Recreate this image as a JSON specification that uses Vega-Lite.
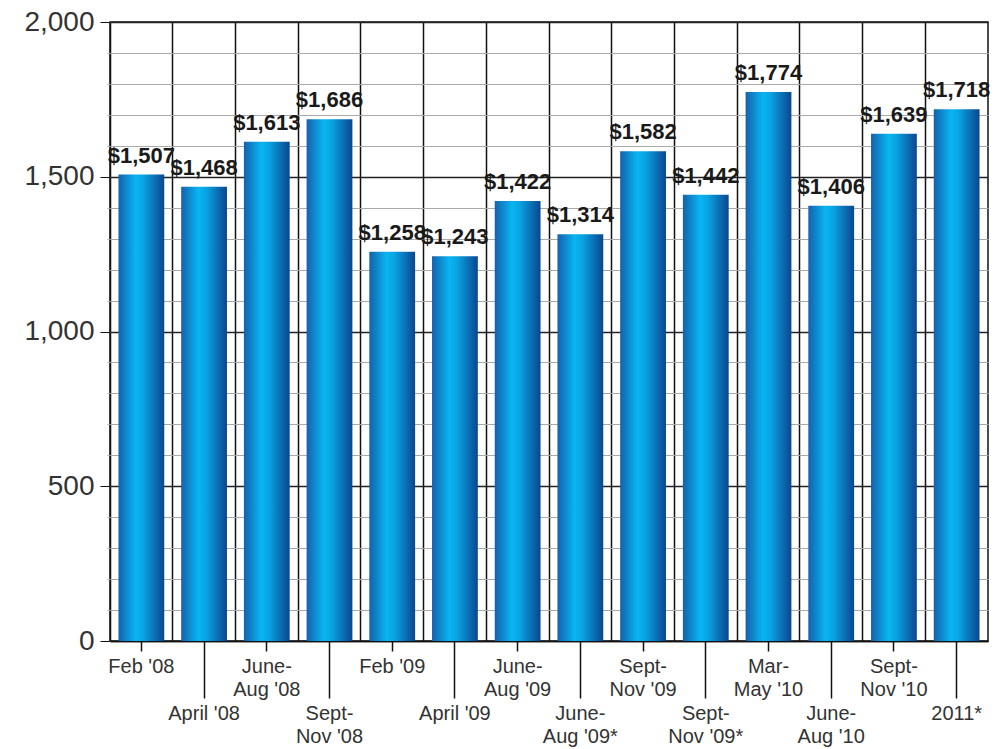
{
  "$schema": "https://vega.github.io/schema/vega-lite/v6.json",
  "autosize": {"type": "none"},
  "width": 878,
  "height": 619,
  "padding": {"left": 110, "top": 22, "right": 11, "bottom": 108},
  "background": "white",
  "config": {
    "view": {"stroke": "#111", "strokeWidth": 1.5},
    "font": "Liberation Sans"
  },
  "data": {
    "values": [
      {"period": "Feb '08", "amount": 1507},
      {"period": "April '08", "amount": 1468},
      {"period": "June-|Aug '08", "amount": 1613},
      {"period": "Sept-|Nov '08", "amount": 1686},
      {"period": "Feb '09", "amount": 1258},
      {"period": "April '09", "amount": 1243},
      {"period": "June-|Aug '09", "amount": 1422},
      {"period": "June-|Aug '09*", "amount": 1314},
      {"period": "Sept-|Nov '09", "amount": 1582},
      {"period": "Sept-|Nov '09*", "amount": 1442},
      {"period": "Mar-|May '10", "amount": 1774},
      {"period": "June-|Aug '10", "amount": 1406},
      {"period": "Sept-|Nov '10", "amount": 1639},
      {"period": "2011*", "amount": 1718}
    ]
  },
  "layer": [
    {
      "mark": {
        "type": "bar",
        "width": {"band": 0.73},
        "color": {
          "gradient": "linear",
          "x1": 0, "x2": 1, "y1": 0, "y2": 0,
          "stops": [
            {"offset": 0, "color": "#1461ad"},
            {"offset": 0.38, "color": "#08b6f2"},
            {"offset": 0.55, "color": "#0aa2e2"},
            {"offset": 1, "color": "#0b468f"}
          ]
        }
      },
      "encoding": {
        "x": {
          "field": "period", "type": "nominal", "sort": null,
          "scale": {"paddingInner": 0, "paddingOuter": 0},
          "axis": {
            "orient": "bottom",
            "title": null,
            "labelAngle": 0,
            "labelExpr": "split(datum.label, '|')",
            "labelFontSize": 20,
            "labelColor": "#333",
            "labelLineHeight": 23,
            "labelBaseline": "top",
            "labelPadding": 5,
            "labelOverlap": false,
            "labelFlush": false,
            "labelLimit": 200,
            "tickColor": "#111",
            "tickWidth": 1.5,
            "tickSize": {"condition": {"test": "round(datum.index * 13) % 2 == 1", "value": 57}, "value": 10},
            "domainColor": "#111",
            "domainWidth": 1.5,
            "grid": false
          }
        },
        "y": {
          "field": "amount", "type": "quantitative",
          "scale": {"domain": [0, 2000], "nice": false},
          "axis": {
            "orient": "left",
            "title": null,
            "values": [0,100,200,300,400,500,600,700,800,900,1000,1100,1200,1300,1400,1500,1600,1700,1800,1900,2000],
            "labels": false,
            "grid": true,
            "gridColor": "#aaaaaa",
            "gridWidth": 1,
            "tickColor": "#aaaaaa",
            "tickSize": 3,
            "domain": false
          }
        }
      }
    },
    {
      "mark": {"type": "text", "dy": -12, "baseline": "alphabetic", "fontWeight": "bold", "fontSize": 22, "color": "#1a1a1a", "font": "Liberation Sans"},
      "encoding": {
        "x": {
          "field": "period", "type": "nominal", "sort": null,
          "axis": {
            "orient": "top",
            "title": null,
            "labels": false,
            "ticks": false,
            "domain": false,
            "grid": true,
            "bandPosition": 0,
            "gridColor": "#111",
            "gridWidth": 1.5
          }
        },
        "y": {
          "field": "amount", "type": "quantitative",
          "axis": {
            "orient": "left",
            "title": null,
            "values": [0, 500, 1000, 1500, 2000],
            "labelFontSize": 28,
            "labelColor": "#333",
            "labelPadding": 6,
            "grid": true,
            "gridColor": "#222",
            "gridWidth": 1.5,
            "tickColor": "#111",
            "tickSize": 10,
            "domain": false
          }
        },
        "text": {"field": "amount", "type": "quantitative", "format": "$,.0f"}
      }
    }
  ],
  "resolve": {"axis": {"x": "independent", "y": "independent"}}
}
